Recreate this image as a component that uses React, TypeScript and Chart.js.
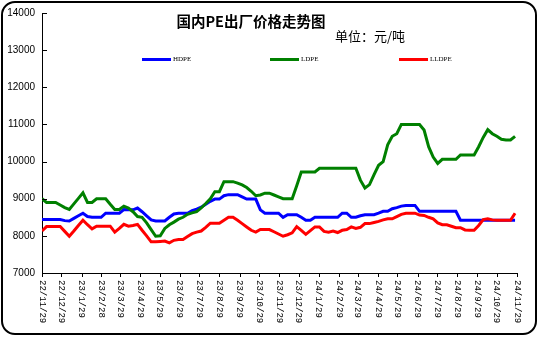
import React, { useEffect, useRef } from "react";
import { Chart, registerables } from "chart.js";
Chart.register(...registerables);

const xTickLabels = [
  "22/11/29", "22/12/29", "23/1/29", "23/2/28", "23/3/29", "23/4/29", "23/5/29",
  "23/6/29", "23/7/29", "23/8/29", "23/9/29", "23/10/29", "23/11/29", "23/12/29",
  "24/1/29", "24/2/29", "24/3/29", "24/4/29", "24/5/29", "24/6/29", "24/7/29",
  "24/8/29", "24/9/29", "24/10/29", "24/11/29",
];

const seriesNames = ["HDPE", "LDPE", "LLDPE"];
const seriesColors = ["#0000FF", "#008000", "#FF0000"];

// weekly prices starting 22/11/29
const hdpe = [
  8440, 8440, 8440, 8440, 8440, 8410, 8400, 8470, 8540, 8610,
  8520, 8500, 8500, 8500, 8610, 8610, 8610, 8610, 8710, 8700,
  8700, 8750, 8650, 8540, 8430, 8400, 8400, 8400, 8500, 8590,
  8610, 8610, 8610, 8680, 8720, 8770, 8850, 8930, 8990, 8990,
  9080, 9110, 9110, 9110, 9050, 8990, 8990, 8990, 8700, 8610,
  8610, 8610, 8610, 8500, 8570, 8570, 8570, 8500, 8420, 8420,
  8500, 8500, 8500, 8500, 8500, 8500, 8610, 8610, 8500, 8500,
  8540, 8570, 8570, 8570, 8610, 8660, 8660, 8730, 8760, 8800,
  8820, 8820, 8820, 8660, 8660, 8660, 8660, 8660, 8660, 8660,
  8660, 8660, 8420, 8420, 8420, 8420, 8420, 8420, 8420, 8420,
  8420, 8420, 8420, 8420, 8420,
];

const ldpe = [
  9000, 8900, 8900, 8900, 8830, 8760, 8710, 8860, 9010, 9160,
  8900, 8900, 9000, 9000, 9000, 8850, 8710, 8710, 8800, 8750,
  8650, 8520, 8500, 8350, 8170, 7990, 8000, 8200, 8300, 8370,
  8450, 8500, 8580, 8620, 8650, 8750, 8870, 9000, 9190, 9190,
  9460, 9460, 9460, 9420, 9370, 9300, 9200, 9080, 9100, 9150,
  9150, 9100, 9050, 9000, 9000, 9000, 9350, 9720, 9720, 9720,
  9720, 9820, 9820, 9820, 9820, 9820, 9820, 9820, 9820, 9820,
  9500, 9290, 9380, 9650, 9900, 10000, 10450, 10680, 10750, 11000,
  11000, 11000, 11000, 11000, 10850, 10400, 10120, 9950, 10060, 10060,
  10060, 10060, 10180, 10180, 10180, 10180, 10400, 10650, 10860, 10750,
  10680, 10600, 10580, 10580, 10680,
];

const lldpe = [
  8130, 8250, 8250, 8250, 8250, 8120, 7990, 8130, 8280, 8420,
  8300, 8190, 8260, 8260, 8260, 8260, 8100, 8200, 8310, 8260,
  8280, 8310, 8150, 8000, 7840, 7840, 7850, 7860, 7810, 7880,
  7900, 7900, 7980, 8060, 8100, 8130, 8230, 8340, 8340, 8340,
  8420, 8500, 8500, 8420, 8330, 8240, 8150, 8100, 8170, 8170,
  8170, 8110, 8050, 7990, 8030, 8080, 8250, 8150, 8040, 8140,
  8240, 8240, 8120, 8100, 8130, 8090, 8150, 8170, 8240, 8200,
  8230, 8330, 8330, 8360, 8390, 8430, 8460, 8460, 8520, 8580,
  8610, 8610, 8610, 8560, 8550, 8500, 8460, 8350, 8300, 8300,
  8260, 8220, 8220, 8160, 8150, 8150, 8280, 8440, 8460, 8430,
  8420, 8420, 8420, 8420, 8610,
];

const yMin = 7000;
const yMax = 14000;
const yStep = 1000;

const DAY = 86400000;
const baseDate = Date.UTC(2022, 10, 29);
const labelToDay = (lbl: string) => {
  const [y, m, d] = lbl.split("/").map(Number);
  return Math.round((Date.UTC(2000 + y, m - 1, d) - baseDate) / DAY);
};
const tickDays = xTickLabels.map(labelToDay);

const axisDecor = {
  id: "axisDecor",
  afterDraw(chart: any) {
    const { ctx, chartArea, scales } = chart;
    const xs = scales.x;
    const ys = scales.y;
    ctx.save();
    ctx.strokeStyle = "#000";
    ctx.lineWidth = 1;
    ys.ticks.forEach((t: any) => {
      const py = Math.round(ys.getPixelForValue(t.value)) + 0.5;
      ctx.beginPath();
      ctx.moveTo(chartArea.left, py);
      ctx.lineTo(chartArea.left + 5, py);
      ctx.stroke();
    });
    tickDays.forEach((d) => {
      const px = Math.round(xs.getPixelForValue(d)) + 0.5;
      ctx.beginPath();
      ctx.moveTo(px, chartArea.bottom);
      ctx.lineTo(px, chartArea.bottom + 4);
      ctx.stroke();
    });
    ctx.fillStyle = "#000";
    ctx.font = '9px "Liberation Mono"';
    ctx.textAlign = "left";
    ctx.textBaseline = "middle";
    tickDays.forEach((d, i) => {
      const px = xs.getPixelForValue(d);
      ctx.save();
      ctx.translate(px, chartArea.bottom + 7);
      ctx.rotate(Math.PI / 2);
      ctx.fillText(xTickLabels[i], 0, 0);
      ctx.restore();
    });
    ctx.restore();
  },
};

export default function App() {
  const ref = useRef<HTMLCanvasElement>(null);
  useEffect(() => {
    if (!ref.current) return;
    const all = [hdpe, ldpe, lldpe];
    const chart = new Chart(ref.current, {
      type: "line",
      data: {
        datasets: all.map((arr, k) => ({
          label: seriesNames[k],
          data: arr.map((v, i) => ({ x: i * 7, y: v })),
          borderColor: seriesColors[k],
          backgroundColor: seriesColors[k],
          borderWidth: 3,
          pointRadius: 0,
          tension: 0,
          fill: false,
          order: 2 - k,
        })),
      },
      options: {
        animation: false,
        responsive: false,
        devicePixelRatio: 1,
        layout: { padding: { left: 0, top: 11, right: 21, bottom: 0 } },
        plugins: { legend: { display: false }, title: { display: false }, tooltip: { enabled: false } },
        scales: {
          x: {
            type: "linear",
            min: 0,
            max: tickDays[tickDays.length - 1],
            grid: { display: false, drawTicks: false },
            border: { display: true, color: "#000", width: 1 },
            ticks: { display: false },
            afterFit: (s: any) => { s.height = 65; },
          },
          y: {
            min: yMin,
            max: yMax,
            grid: { display: false, drawTicks: false },
            border: { display: true, color: "#000", width: 1 },
            ticks: {
              stepSize: yStep,
              color: "#000",
              padding: 7,
              font: { family: '"Liberation Sans", Arial, sans-serif', size: 10 },
              callback: (v: any) => String(v),
            },
            afterFit: (s: any) => { s.width = 42; },
          },
        },
      },
      plugins: [axisDecor],
    });
    return () => chart.destroy();
  }, []);

  const legendPos = [142, 270, 399];

  return (
    <div style={{ position: "absolute", left: 0, top: 0, width: 538, height: 338, background: "#fff", overflow: "hidden" }}>
      <canvas ref={ref} width={538} height={338} style={{ position: "absolute", left: 0, top: 0 }} />
      <div
        style={{
          position: "absolute", left: 1, top: 1, width: 536, height: 334, boxSizing: "border-box",
          border: "2px solid #000", borderRadius: 14, pointerEvents: "none",
        }}
      />
      <div
        style={{
          position: "absolute", left: 151, top: 12, width: 200, textAlign: "center",
          fontFamily: '"Noto Sans CJK SC", sans-serif', fontWeight: 700, fontSize: 14.5, lineHeight: "17px",
          color: "#000", whiteSpace: "nowrap",
        }}
      >
        国内PE出厂价格走势图
      </div>
      <div
        style={{
          position: "absolute", left: 335, top: 28, fontFamily: '"Noto Sans CJK SC", sans-serif',
          fontSize: 13, lineHeight: "15px", color: "#000", whiteSpace: "nowrap",
        }}
      >
        单位：元/吨
      </div>
      {seriesNames.map((n, k) => (
        <div key={n} style={{ position: "absolute", left: legendPos[k], top: 54, height: 10, whiteSpace: "nowrap" }}>
          <div style={{ position: "absolute", left: 0, top: 4, width: 29, height: 3, background: seriesColors[k] }} />
          <div
            style={{
              position: "absolute", left: 31, top: 0, fontFamily: '"Liberation Serif", serif', fontSize: 7,
              lineHeight: "10px", color: "#000",
            }}
          >
            {n}
          </div>
        </div>
      ))}
    </div>
  );
}
